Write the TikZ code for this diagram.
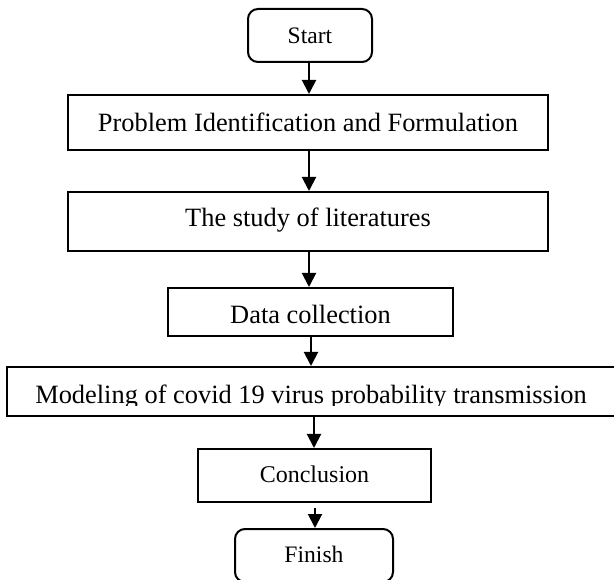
\documentclass[tikz,border=0pt]{standalone}
\usepackage{fontspec}
\setmainfont{Liberation Serif}
\usetikzlibrary{arrows.meta}
\begin{document}
\begin{tikzpicture}[x=1pt,y=-1pt,
  box/.style={draw, line width=2pt, inner sep=0pt, text depth=0pt,
    font=\fontsize{26.4}{30}\selectfont},
  term/.style={box, rounded corners=10pt, font=\fontsize{23.6}{28}\selectfont},
  arr/.style={line width=2pt, -{Triangle[length=14pt,width=14pt]}},
  bigtext/.style={font=\fontsize{26.4}{30}\selectfont, inner sep=0pt}]
\useasboundingbox (0,0) rectangle (614,580);
\clip (0,0) rectangle (614,580);

\node[term, minimum width=124pt, minimum height=53pt, text height=16.7pt] (start) at (310,35.5) {Start};
\node[box, minimum width=480pt, minimum height=55pt, text height=17.4pt] (prob) at (308,122.5) {Problem Identification and Formulation};
\node[box, minimum width=480pt, minimum height=59pt, text height=10.4pt] (lit) at (308,221.5) {The study of literatures};
\node[box, minimum width=285pt, minimum height=48pt, text height=23.4pt] (data) at (310.5,312) {Data collection};
\node[box, minimum width=611pt, minimum height=49pt] (model) at (312.5,391.5) {};
\begin{scope}
  \clip (0,367) rectangle (614,405.5);
  \node[bigtext, anchor=base] (modeltext) at (311,404) {Modeling of covid 19 virus probability transmission};
\end{scope}
\node[box, minimum width=233pt, minimum height=53pt, text height=14.7pt, font=\fontsize{24}{28}\selectfont] (concl) at (314.5,475.5) {Conclusion};
\node[term, minimum width=158pt, minimum height=53pt, text height=14.7pt] (finish) at (314,555.5) {Finish};

\draw[arr] ([xshift=-1pt]start.south) -- ([xshift=-1pt]start.south |- prob.north);
\draw[arr] ([xshift=1pt]prob.south) -- ([xshift=1pt]prob.south |- lit.north);
\draw[arr] ([xshift=1pt]lit.south) -- ([xshift=1pt]lit.south |- data.north);
\draw[arr] ([xshift=0.5pt]data.south) -- ([xshift=0.5pt]data.south |- model.north);
\draw[arr] ([xshift=-0.5pt]model.south -| concl.north) -- ([xshift=-0.5pt]concl.north);
\draw[arr] ([xshift=0.5pt,yshift=-5pt]concl.south) -- ([xshift=0.5pt]concl.south |- finish.north);
\end{tikzpicture}
\end{document}
